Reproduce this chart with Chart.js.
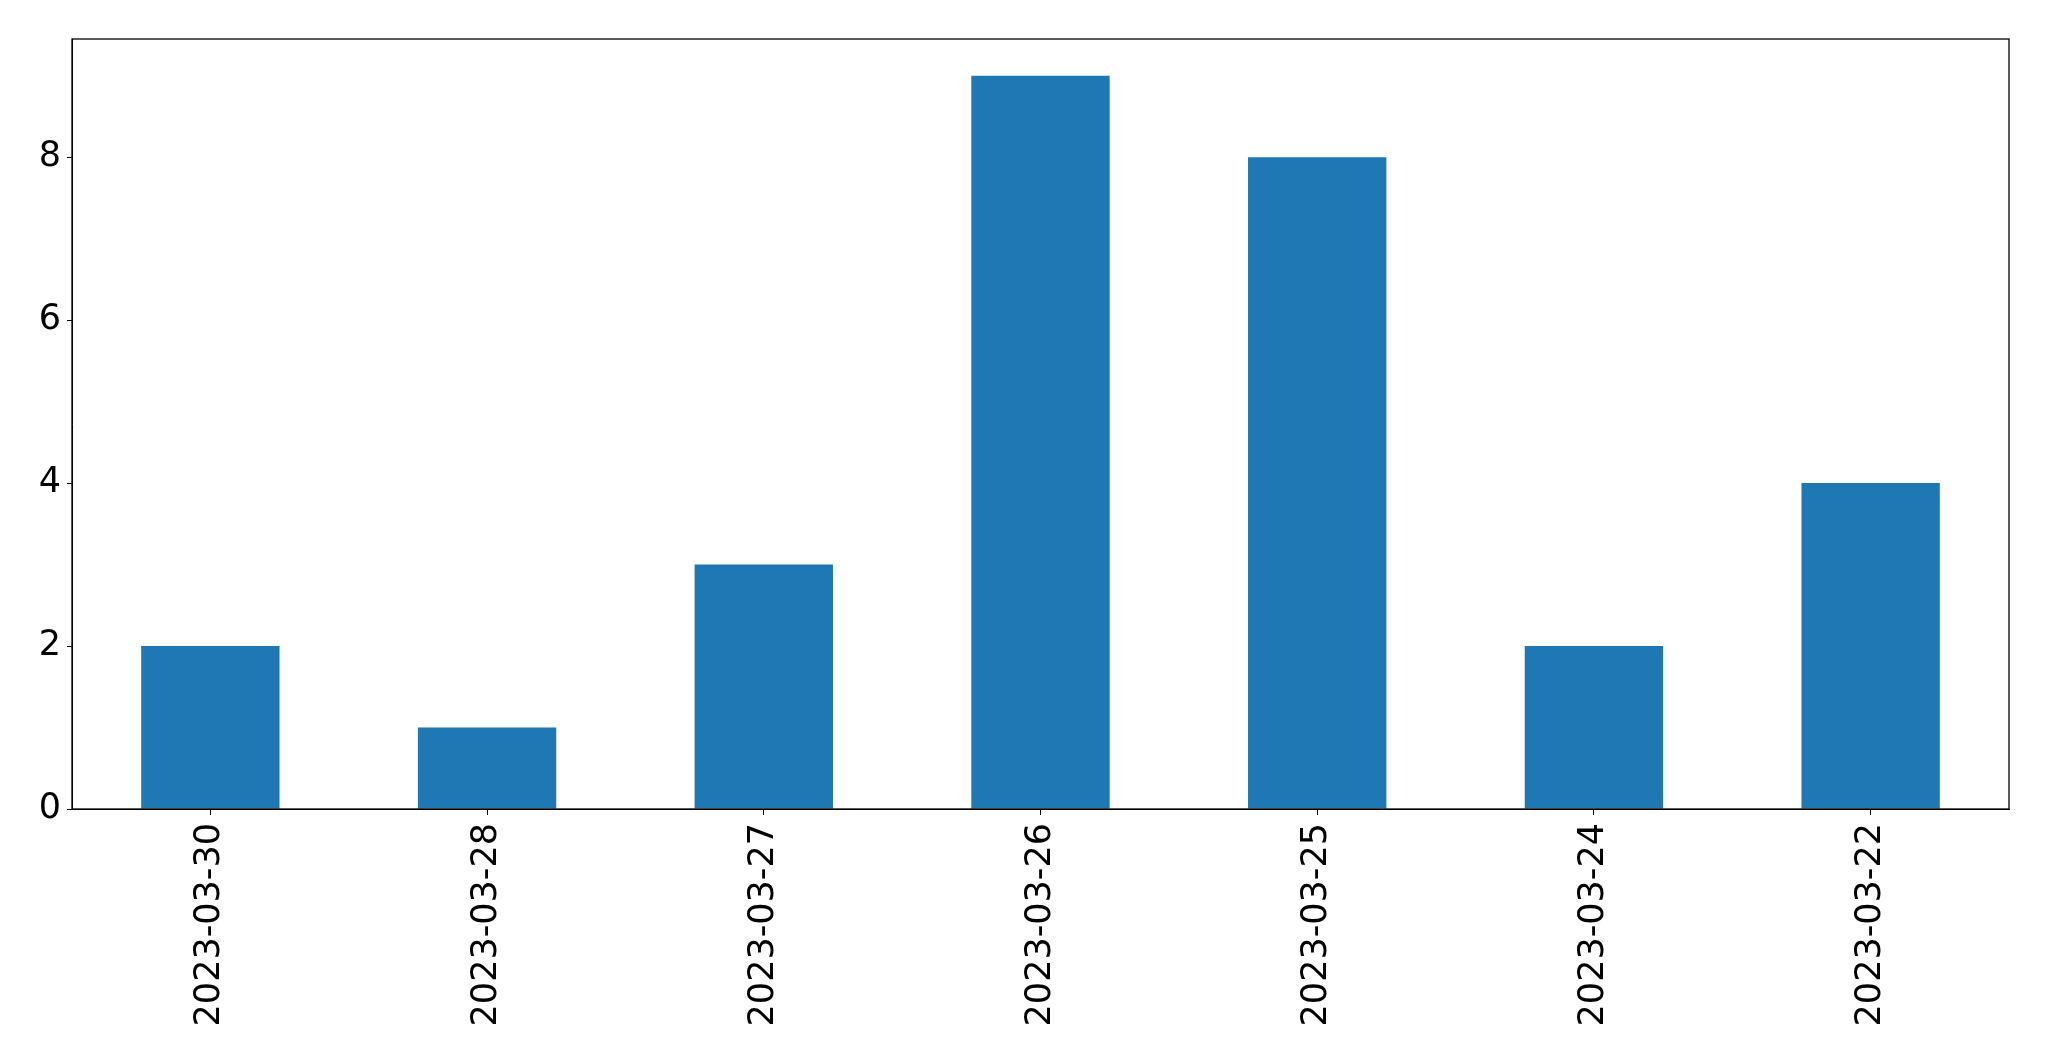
<!DOCTYPE html>
<html lang="en">

<head>
    <title>Daily counts</title>
    <meta charset="utf-8">
    <script src="https://cdn.jsdelivr.net/npm/chart.js"></script>
    <style>
        body {
            margin: 0;
            background-color: white;
        }

        canvas {
            display: block;
        }
    </style>
</head>

<body>
    <canvas id="barChart" width="2049" height="1061"></canvas>

    <script>
        // data
        const dates = ['2023-03-30', '2023-03-28', '2023-03-27', '2023-03-26', '2023-03-25', '2023-03-24', '2023-03-22'];
        const counts = [2, 1, 3, 9, 8, 2, 4];
        const yTicks = [0, 2, 4, 6, 8];
        const yMax = 9.45;

        // frame around the plot area
        const framePlugin = {
            id: 'frame',
            afterDraw(chart) {
                const a = chart.chartArea;
                const ctx = chart.ctx;
                ctx.save();
                ctx.strokeStyle = 'black';
                ctx.lineWidth = 1.3;
                ctx.strokeRect(a.left, a.top, a.right - a.left, a.bottom - a.top);
                ctx.restore();
            }
        };

        Chart.defaults.font.family = '"DejaVu Sans", sans-serif';
        Chart.defaults.color = 'black';

        const ctx = document.getElementById('barChart').getContext('2d');
        new Chart(ctx, {
            type: 'bar',
            data: {
                labels: dates,
                datasets: [{
                    data: counts,
                    backgroundColor: '#1f77b4',
                    categoryPercentage: 1.0,
                    barPercentage: 0.5
                }]
            },
            options: {
                responsive: false,
                animation: false,
                layout: {
                    padding: { top: 39, right: 40, left: 0, bottom: 0 }
                },
                plugins: {
                    legend: { display: false },
                    tooltip: { enabled: false }
                },
                scales: {
                    x: {
                        grid: { display: true, offset: false, drawOnChartArea: false, tickLength: 6, color: 'black' },
                        border: { display: true, color: 'black' },
                        ticks: {
                            font: { size: 35 },
                            maxRotation: 90,
                            minRotation: 90,
                            padding: 8
                        },
                        afterFit(scale) { scale.height = 252; }
                    },
                    y: {
                        min: 0,
                        max: yMax,
                        grid: { display: true, drawOnChartArea: false, tickLength: 5, color: 'black' },
                        border: { display: true, color: 'black' },
                        ticks: {
                            font: { size: 35 },
                            padding: 6
                        },
                        afterBuildTicks(scale) {
                            scale.ticks = yTicks.map(v => ({ value: v }));
                        },
                        afterFit(scale) { scale.width = 72; }
                    }
                }
            },
            plugins: [framePlugin]
        });
    </script>
</body>

</html>
